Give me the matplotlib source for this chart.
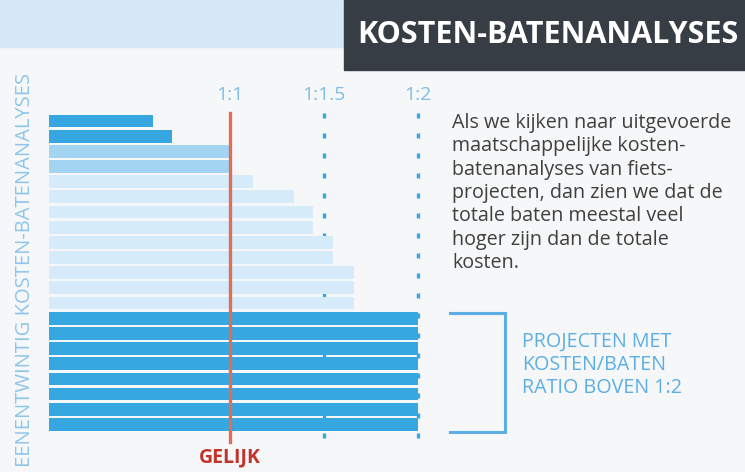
import matplotlib
matplotlib.use('Agg')
import matplotlib.pyplot as plt
from matplotlib.patches import Rectangle

# Waarden (baten/kosten ratio per project)
ratios = [0.59, 0.69, 1.01, 1.01, 1.12, 1.34, 1.44, 1.44, 1.55, 1.55,
          1.66, 1.66, 1.66, 2.0, 2.0, 2.0, 2.0, 2.0, 2.0, 2.0, 2.0]
groepen = ['donker', 'donker', 'midden', 'midden', 'licht', 'licht', 'licht',
           'licht', 'licht', 'licht', 'licht', 'licht', 'licht', 'donker',
           'donker', 'donker', 'donker', 'donker', 'donker', 'donker', 'donker']
ref_waarden = [1.0, 1.5, 2.0]
ref_labels = ['1:1', '1:1.5', '1:2']

titel = 'KOSTEN-BATENANALYSES'
y_label = 'EENENTWINTIG KOSTEN-BATENANALYSES'
tekst = ['Als we kijken naar uitgevoerde', 'maatschappelijke kosten-',
         'batenanalyses van fiets-', 'projecten, dan zien we dat de',
         'totale baten meestal veel', 'hoger zijn dan de totale', 'kosten.']
bracket_tekst = ['PROJECTEN MET', 'KOSTEN/BATEN', 'RATIO BOVEN 1:2']

kleuren = {'donker': '#36a7e0', 'midden': '#a3d5f3', 'licht': '#d5ebf9'}
FONT = ['Open Sans', 'DejaVu Sans']
plt.rcParams['font.family'] = FONT

W, H = 745, 472
fig = plt.figure(figsize=(W / 100, H / 100), dpi=100)
fig.patch.set_facecolor('#f6f7f8')

# overlay in pixels voor decoratie
ov = fig.add_axes([0, 0, 1, 1])
ov.set_xlim(0, W)
ov.set_ylim(H, 0)
ov.axis('off')
ov.add_patch(Rectangle((0, 0), 345, 47, color='#d6e9f6', zorder=0))
ov.add_patch(Rectangle((344, 0), W - 344, 70, color='#363d45', zorder=1))
ov.text(357, 43, titel, color='white', fontsize=22, fontweight='bold',
        va='baseline', ha='left', clip_on=True)
ov.text(25, 270, y_label, color='#8ec5ea', fontsize=14.5, rotation=90,
        ha='center', va='center')
for i, regel in enumerate(tekst):
    ov.text(452, 128 + i * 23.3, regel, color='#404040', fontsize=14.2,
            va='baseline', ha='left')
ov.plot([450, 505, 505, 450], [313, 313, 432, 432], color='#5caee5', lw=2.2,
        solid_joinstyle='miter')
for i, regel in enumerate(bracket_tekst):
    ov.text(522, 347 + i * 23, regel, color='#5caee5', fontsize=14.2,
            va='baseline', ha='left')

# staafdiagram in ratio-eenheden
ax = fig.add_axes([0, 0, 1, 1])
ax.patch.set_alpha(0)
a, b = 42, 188  # pixel = a + b * ratio
ax.set_xlim(-a / b, (W - a) / b)
pitch, y0 = 15.17, 121
ax.set_ylim((H - y0) / pitch, -y0 / pitch)
ax.axis('off')

start = 0.035
idx = list(range(len(ratios)))
ax.barh(idx, [r - start for r in ratios], left=start, height=0.84,
        color=[kleuren[g] for g in groepen], zorder=2)

for w, lab in zip(ref_waarden, ref_labels):
    if w == 1.0:
        ax.plot([w, w], [-0.53, 21.16], color='#d9705a', lw=2.4, zorder=3)
    else:
        ax.plot([w, w], [-0.53, 21.16], color='#36a7e0', lw=2.4,
                dashes=(1.5, 4.5), zorder=1)
    ax.text(w, -1.38, lab, color='#7fbde6', fontsize=14, ha='center',
            va='baseline')

ax.text(1.0, 22.5, 'GELIJK', color='#c2332c', fontsize=14,
        fontweight='bold', ha='center', va='baseline')

fig.savefig('out.png', dpi=100, facecolor=fig.get_facecolor())
